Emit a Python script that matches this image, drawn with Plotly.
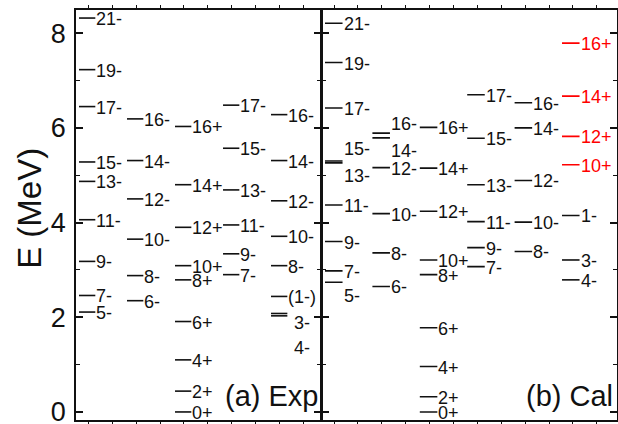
import plotly.graph_objects as go

# ---------------- data ----------------
# (a) Exp : column index, level label, energy (MeV)
exp_column = [0, 0, 0, 0, 0, 0, 0, 0, 0,
              1, 1, 1, 1, 1, 1,
              2, 2, 2, 2, 2, 2, 2, 2, 2,
              3, 3, 3, 3, 3, 3,
              4, 4, 4, 4, 4, 4, 4, 4]
exp_labels = ["21-", "19-", "17-", "15-", "13-", "11-", "9-", "7-", "5-",
              "16-", "14-", "12-", "10-", "8-", "6-",
              "16+", "14+", "12+", "10+", "8+", "6+", "4+", "2+", "0+",
              "17-", "15-", "13-", "11-", "9-", "7-",
              "16-", "14-", "12-", "10-", "8-", "(1-)", "3-", "4-"]
exp_energy = [8.32, 7.23, 6.45, 5.28, 4.87, 4.06, 3.18, 2.46, 2.11,
              6.19, 5.31, 4.50, 3.65, 2.88, 2.35,
              6.03, 4.80, 3.90, 3.09, 2.79, 1.91, 1.10, 0.44, 0.00,
              6.48, 5.57, 4.69, 3.95, 3.34, 2.90,
              6.28, 5.31, 4.46, 3.71, 3.09, 2.44, 2.08, 2.03]

# (b) Cal
cal_column = [0, 0, 0, 0, 0, 0, 0, 0, 0,
              1, 1, 1, 1, 1, 1,
              2, 2, 2, 2, 2, 2, 2, 2, 2,
              3, 3, 3, 3, 3, 3,
              4, 4, 4, 4, 4,
              5, 5, 5, 5, 5, 5, 5]
cal_labels = ["21-", "19-", "17-", "15-", "13-", "11-", "9-", "7-", "5-",
              "16-", "14-", "12-", "10-", "8-", "6-",
              "16+", "14+", "12+", "10+", "8+", "6+", "4+", "2+", "0+",
              "17-", "15-", "13-", "11-", "9-", "7-",
              "16-", "14-", "12-", "10-", "8-",
              "16+", "14+", "12+", "10+", "1-", "3-", "4-"]
cal_energy = [8.21, 7.38, 6.42, 5.30, 5.26, 4.37, 3.60, 2.98, 2.74,
              5.89, 5.79, 5.16, 4.19, 3.36, 2.65,
              6.01, 5.15, 4.24, 3.21, 2.90, 1.78, 0.96, 0.32, 0.00,
              6.70, 5.78, 4.80, 4.02, 3.47, 3.07,
              6.53, 6.00, 4.89, 4.01, 3.39,
              7.79, 6.67, 5.82, 5.22, 4.15, 3.21, 2.79]
cal_red = [False] * 35 + [True, True, True, True, False, False, False]

y_tick_values = [0, 2, 4, 6, 8]
panel_titles = ["(a) Exp", "(b) Cal"]
y_title = "E (MeV)"

# label placement tweaks (layout only): (panel, column, label) -> (label height, x shift px)
label_override = {
    ("exp", 4, "3-"): (1.91, 6),
    ("exp", 4, "4-"): (1.38, 6),
    ("cal", 0, "15-"): (5.57, 0),
    ("cal", 0, "13-"): (5.01, 0),
    ("cal", 0, "5-"): (2.47, 0),
    ("cal", 1, "16-"): (6.10, 0),
    ("cal", 1, "14-"): (5.54, 0),
}

FONT = "Liberation Sans, Arial, sans-serif"
BLACK = "#111111"
RED = "#ff0000"

fig = go.Figure()
annotations = []


def add_panel(name, cols, labels, energies, colors, xaxis, yaxis, line_len):
    for c, lab, e, col in zip(cols, labels, energies, colors):
        fig.add_trace(go.Scatter(
            x=[c, c + line_len], y=[e, e], mode="lines",
            line=dict(color=col, width=1.6),
            xaxis=xaxis, yaxis=yaxis, showlegend=False, hoverinfo="skip"))
        ly, dx = label_override.get((name, c, lab), (e, 0))
        annotations.append(dict(
            x=c + line_len, y=ly, xref=xaxis, yref=yaxis,
            text=lab, showarrow=False, xanchor="left", yanchor="middle",
            font=dict(family=FONT, size=18, color=col), xshift=-1 + dx, yshift=-1))


add_panel("exp", exp_column, exp_labels, exp_energy, [BLACK] * len(exp_labels),
          "x", "y", 0.34)
add_panel("cal", cal_column, cal_labels, cal_energy,
          [RED if r else BLACK for r in cal_red], "x2", "y2", 0.37)

# panel titles
annotations.append(dict(x=1, y=0.33, xref="x domain", yref="y", text=panel_titles[0],
                        showarrow=False, xanchor="right", yanchor="middle", xshift=-1,
                        font=dict(family=FONT, size=29, color=BLACK)))
annotations.append(dict(x=1, y=0.33, xref="x2 domain", yref="y2", text=panel_titles[1],
                        showarrow=False, xanchor="right", yanchor="middle", xshift=-2,
                        font=dict(family=FONT, size=29, color=BLACK)))
# y title
annotations.append(dict(x=-0.085, y=0.515, xref="paper", yref="paper", text=y_title,
                        showarrow=False, textangle=-90, xanchor="center", yanchor="middle",
                        font=dict(family=FONT, size=33, color=BLACK)))

LW = 1.5
split_left = (321.7 - LW / 2 - 76) / 541
split_right = (321.7 + LW / 2 - 76) / 541
yrange = [-0.17, 8.49]

common_x = dict(showgrid=False, zeroline=False, showline=True, linecolor=BLACK, linewidth=LW,
                mirror="ticks", ticks="outside", ticklen=3, tickwidth=1, tickcolor=BLACK,
                showticklabels=False, tickmode="linear", automargin=False)
common_y = dict(showgrid=False, zeroline=False, showline=True, linecolor=BLACK, linewidth=LW,
                mirror="ticks", ticks="inside", ticklen=7, tickwidth=1.5, tickcolor=BLACK,
                range=yrange, tickmode="array", tickvals=y_tick_values, automargin=False,
                minor=dict(ticks="inside", ticklen=4, tickwidth=1.2, dtick=1, tick0=0,
                           tickcolor=BLACK, showgrid=False))

fig.update_layout(
    width=618, height=424, autosize=False,
    margin=dict(l=76, r=1, t=10, b=4, pad=0, autoexpand=False),
    paper_bgcolor="white", plot_bgcolor="white",
    font=dict(family=FONT, color=BLACK),
    xaxis=dict(domain=[0, split_left], range=[-0.0625, 5.04], tick0=0.194, dtick=0.498, **common_x),
    xaxis2=dict(domain=[split_right, 1], range=[-0.054, 6.16], tick0=0.19, dtick=0.504, **common_x),
    yaxis=dict(anchor="x", showticklabels=True, tickfont=dict(family=FONT, size=27, color=BLACK),
               ticklabelstandoff=3, ticklabeloverflow="allow", **common_y),
    yaxis2=dict(anchor="x2", showticklabels=False, **common_y),
    annotations=annotations,
)

fig.write_html("out.html", config={"displayModeBar": False},
               post_script="document.body.style.margin='0';document.body.style.padding='0';")
